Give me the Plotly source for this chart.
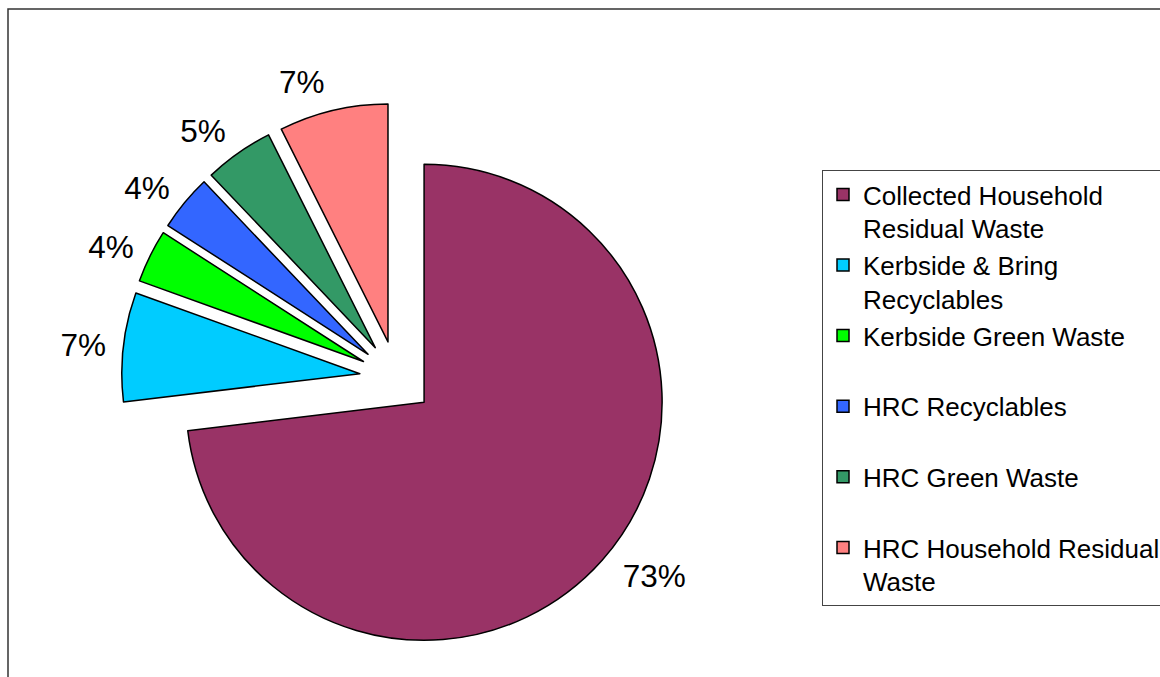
import plotly.graph_objects as go

categories = [
    "Collected Household<br>Residual Waste",
    "Kerbside & Bring<br>Recyclables",
    "Kerbside Green Waste<br> ",
    "HRC Recyclables<br> ",
    "HRC Green Waste<br> ",
    "HRC Household Residual<br>Waste",
]
values = [73.1, 7.4, 3.6, 3.8, 4.7, 7.4]
colors = ["#993366", "#00CCFF", "#00FF00", "#3366FF", "#339966", "#FF8080"]

W, H = 1160, 677
FONT = "Liberation Sans, Arial, sans-serif"

# visible slices (no text)
pie = go.Pie(
    labels=categories,
    values=values,
    sort=False,
    direction="clockwise",
    rotation=0,
    pull=[0.155] * len(values),
    marker=dict(colors=colors, line=dict(color="#000000", width=1.5)),
    textinfo="none",
    domain=dict(x=[0.1048, 0.5788], y=[0.0358, 0.848]),
    hoverinfo="label+percent",
)

# transparent companion pie, slightly larger, used only to place the percent labels
labels_pie = go.Pie(
    labels=categories,
    values=values,
    sort=False,
    direction="clockwise",
    rotation=0,
    pull=[0.155] * len(values),
    marker=dict(colors=["rgba(0,0,0,0)"] * len(values), line=dict(width=0)),
    texttemplate="%{percent:.0%}",
    textposition="outside",
    outsidetextfont=dict(family=FONT, size=31.5, color="#000000"),
    domain=dict(x=[0.0975, 0.5913], y=[0.0188, 0.865]),
    showlegend=False,
    hoverinfo="skip",
)

fig = go.Figure([pie, labels_pie])

fig.update_layout(
    width=W,
    height=H,
    margin=dict(l=0, r=0, t=0, b=0, autoexpand=False),
    paper_bgcolor="#FFFFFF",
    plot_bgcolor="#FFFFFF",
    font=dict(family=FONT, color="#000000"),
    legend=dict(
        x=822 / W,
        y=1 - 170 / H,
        xanchor="left",
        yanchor="top",
        bordercolor="#444444",
        borderwidth=1,
        bgcolor="#FFFFFF",
        font=dict(size=26, color="#000000", family=FONT),
        valign="top",
    ),
    shapes=[
        dict(
            type="rect",
            xref="paper",
            yref="paper",
            x0=8 / W,
            x1=1.05,
            y0=-0.05,
            y1=1 - 9 / H,
            line=dict(color="#333333", width=1.5),
            fillcolor="rgba(0,0,0,0)",
            layer="below",
        )
    ],
)

fig.write_html(
    "out.html",
    config={"displayModeBar": False},
    post_script="document.body.style.margin='0';",
)
